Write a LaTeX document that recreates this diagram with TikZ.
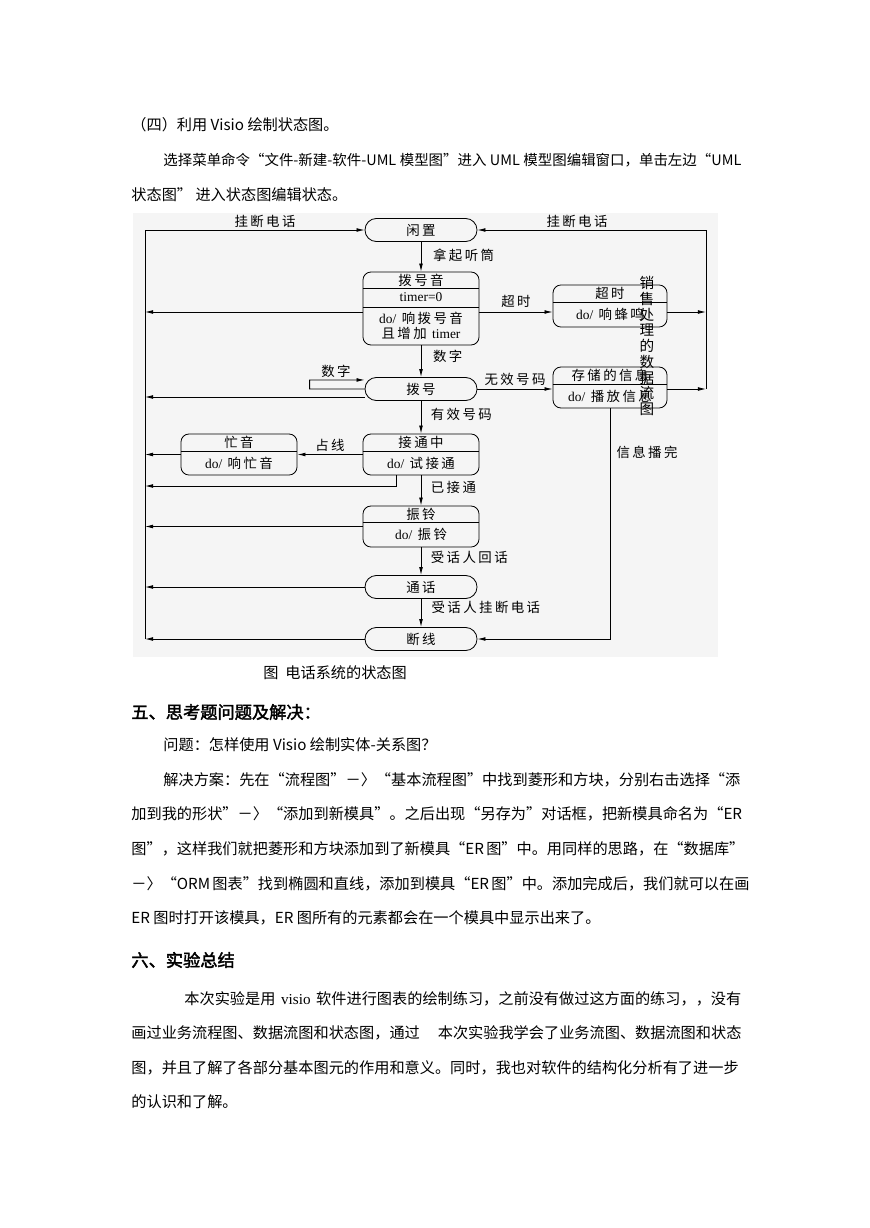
\documentclass[tikz,border=0pt]{standalone}
\usepackage{fontspec}
\setmainfont{Noto Sans CJK SC}
\newfontfamily\hdfont[FakeBold=2.2]{Noto Sans CJK SC}
\newfontfamily\dgfont[LetterSpace=18]{Noto Sans CJK SC}
\newfontfamily\latfont{Liberation Serif}
\usetikzlibrary{arrows.meta, calc, positioning}

\XeTeXlinebreaklocale "zh"
\XeTeXlinebreakskip=0pt plus 2pt

\newcommand\bodyfont{\fontsize{10.4}{12}\selectfont}
\newcommand\headfont{\hdfont\fontsize{11.8}{14}\selectfont}
\newcommand\dgsz{\dgfont\fontsize{9.2}{9.8}\selectfont}
\newcommand\vtsz{\fontsize{10}{10.8}\selectfont}
\newcommand\jline[2]{\makebox[#1][s]{#2}}

\begin{document}
\begin{tikzpicture}[x=0.685pt, y=-0.685pt,
    line width=0.55pt,
    stadium/.style={draw, rectangle, rounded corners=7.8pt, minimum width=76.7pt, minimum height=15.8pt, inner sep=0pt, font=\dgsz},
    compbox/.style={draw, rectangle, rounded corners=5.5pt, minimum width=79.5pt, inner sep=0pt},
    intext/.style={inner sep=0pt, font=\dgsz, align=center},
    lb/.style={inner sep=0pt, font=\dgsz},
    lbw/.style={lb, anchor=west},
    tr/.style={-{Latex[length=5.5pt, width=2.6pt]}},
    para/.style={anchor=west, inner sep=0pt, font=\bodyfont},
    head/.style={anchor=west, inner sep=0pt, font=\headfont}
]
\useasboundingbox (0,0) rectangle (869,1228);

% --- text above the figure ---
\node[para] (p1) at (131,125) {（四）利用 Visio 绘制状态图。};
\node[para, font=\fontsize{9.9}{12}\selectfont] (p2) at (163,160) {\jline{395.9pt}{选择菜单命令“文件-新建-软件-UML 模型图”进入 UML 模型图编辑窗口，单击左边“UML}};
\node[para] (p3) at (131,195) {状态图” 进入状态图编辑状态。};

% --- state diagram ---
\fill[black!4] (133,213) rectangle (718,657);

% states in the middle column
\node[stadium] (XZ) at (421,230) {闲置};
\node[compbox, minimum height=50pt] (BHY) at (421,308.5) {};
\draw (BHY.west |- 0,288) -- (BHY.east |- 0,288);
\draw (BHY.west |- 0,307) -- (BHY.east |- 0,307);
\node[intext] (BHYt) at (421,280) {拨号音};
\node[intext] (BHYa) at (421,297.5) {{\latfont timer=0}};
\node[intext] (BHYb) at (421,326) {{\latfont do/} 响拨号音\\且增加 {\latfont timer}};

\node[stadium] (BH) at (421,389) {拨号};

\node[compbox, minimum height=28.1pt] (JTZ) at (421,454.5) {};
\draw (JTZ.west |- 0,451) -- (JTZ.east |- 0,451);
\node[intext] (JTZt) at (421,442.5) {接通中};
\node[intext] (JTZb) at (421,463) {{\latfont do/} 试接通};

\node[compbox, minimum height=28.1pt] (ZL) at (421,526.5) {};
\draw (ZL.west |- 0,522) -- (ZL.east |- 0,522);
\node[intext] (ZLt) at (421,514) {振铃};
\node[intext] (ZLb) at (421,534.5) {{\latfont do/} 振铃};

\node[stadium] (TH) at (421,587) {通话};
\node[stadium] (DX) at (421,639) {断线};

% side states
\node[compbox, minimum height=28.1pt] (MY) at (239,454.5) {};
\draw (MY.west |- 0,451) -- (MY.east |- 0,451);
\node[intext] (MYt) at (239,442.5) {忙音};
\node[intext] (MYb) at (239,463) {{\latfont do/} 响忙音};

\node[compbox, minimum width=78.1pt, minimum height=28.8pt] (CS) at (610,306) {};
\draw (CS.west |- 0,302) -- (CS.east |- 0,302);
\node[intext] (CSt) at (610,293.5) {超时};
\node[intext] (CSb) at (610,314.5) {{\latfont do/} 响蜂鸣};

\node[compbox, minimum width=78.1pt, minimum height=28.1pt] (CC) at (610,387.5) {};
\draw (CC.west |- 0,384) -- (CC.east |- 0,384);
\node[intext] (CCt) at (610,375.5) {存储的信息};
\node[intext] (CCb) at (610,396) {{\latfont do/} 播放信息};

% bus coordinates
\coordinate (Ltop) at (145,230);
\coordinate (Lbhy) at (145,312);
\coordinate (Lbh) at (145,397);
\coordinate (Lmy) at (145,454.5);
\coordinate (Ljtz) at (145,486);
\coordinate (Lzl) at (145,526.5);
\coordinate (Lth) at (145,587);
\coordinate (Ldx) at (145,639);
\coordinate (Rtop) at (706,230);
\coordinate (Rcs) at (706,312);
\coordinate (Rcc) at (706,389);

% main column
\draw[tr] (XZ) -- (BHY) node[lbw, pos=0.45, xshift=8pt] (l1) {拿起听筒};
\draw[tr] (BHY) -- (BH) node[lbw, pos=0.35, xshift=8pt] (l2) {数字};
\draw[tr] (BH) -- (JTZ) node[lbw, pos=0.4, xshift=6.5pt] (l3) {有效号码};
\draw[tr] (JTZ) -- (ZL) node[lbw, pos=0.4, xshift=6.5pt] (l4) {已接通};
\draw[tr] (ZL) -- (TH) node[lbw, pos=0.35, xshift=6.5pt] (l5) {受话人回话};
\draw[tr] (TH) -- (DX) node[lbw, pos=0.3, xshift=7pt] (l6) {受话人挂断电话};

% self loop on 拨号
\draw[tr] (BH.west) -- ++(-55,0) -- ++(0,-9) -- ([yshift=6.2pt]BH.west);
\node[lb] (l7) at (336,371) {数字};

% to the left bus
\draw[tr] (Ldx) -- (Ltop) -- (XZ.west);
\node[lb] (l8) at (265,221) {挂断电话};
\draw[tr] (BHY.west |- Lbhy) -- (Lbhy);
\draw[tr] (BH.west |- Lbh) -- (Lbh);
\draw[tr] (JTZ) -- (MY) node[lb, midway, above=2pt] (l9) {占线};
\draw[tr] (MY) -- (Lmy);
\draw[tr] ($(JTZ.south west)!0.29!(JTZ.south east)$) |- (Ljtz);
\draw[tr] (ZL) -- (Lzl);
\draw[tr] (TH) -- (Lth);
\draw[tr] (DX) -- (Ldx);

% right side
\draw[tr] (BHY.east |- Rcs) -- (CS.west |- Rcs) node[lb, midway, above=3pt] (l10) {超时};
\draw[tr] (CS.east |- Rcs) -- (Rcs);
\draw[tr] (BH.east) -- (CC.west |- BH.east) node[lb, midway, above=2pt] (l11) {无效号码};
\draw[tr] (CC.east |- BH.east) -- (Rcc);
\draw[tr] (Rcc) -- (Rtop) -- (XZ.east);
\node[lb] (l12) at (577,221) {挂断电话};
\draw[tr] (CC.south) |- (DX.east);
\node[lb] (l13) at (647,452) {信息播完};

% stray vertical text
\node[inner sep=0pt, font=\vtsz, align=center] (vt) at (647,346) {销\\售\\处\\理\\的\\数\\据\\流\\图};

% --- text below the figure ---
\node[para] (cap) at (263,673) {图\ \ 电话系统的状态图};
\node[head] (h5) at (131,712) {五、思考题问题及解决：};
\node[para] (q1) at (163,745) {问题：怎样使用 Visio 绘制实体-关系图？};
\node[para] (s1) at (163,780) {\jline{395.9pt}{解决方案：先在“流程图”－〉“基本流程图”中找到菱形和方块，分别右击选择“添}};
\node[para] (s2) at (131,814) {\jline{417.9pt}{加到我的形状”－〉“添加到新模具”。之后出现“另存为”对话框，把新模具命名为“ER}};
\node[para] (s3) at (131,849) {\jline{417.9pt}{图”，这样我们就把菱形和方块添加到了新模具“ER 图”中。用同样的思路，在“数据库”}};
\node[para] (s4) at (131,884) {\jline{417.9pt}{－〉“ORM 图表”找到椭圆和直线，添加到模具“ER 图”中。添加完成后，我们就可以在画}};
\node[para] (s5) at (131,918) {ER 图时打开该模具，ER 图所有的元素都会在一个模具中显示出来了。};

\node[head] (h6) at (131,960) {六、实验总结};
\node[para] (c1) at (184,999) {\jline{381.5pt}{本次实验是用 {\latfont visio} 软件进行图表的绘制练习，之前没有做过这方面的练习，，没有}};
\node[para] (c2) at (131,1033) {\jline{417.9pt}{画过业务流程图、数据流图和状态图，通过 本次实验我学会了业务流图、数据流图和状态}};
\node[para] (c3) at (131,1068) {\jline{417.9pt}{图，并且了解了各部分基本图元的作用和意义。同时，我也对软件的结构化分析有了进一步}};
\node[para] (c4) at (131,1102) {的认识和了解。};
\end{tikzpicture}
\end{document}
